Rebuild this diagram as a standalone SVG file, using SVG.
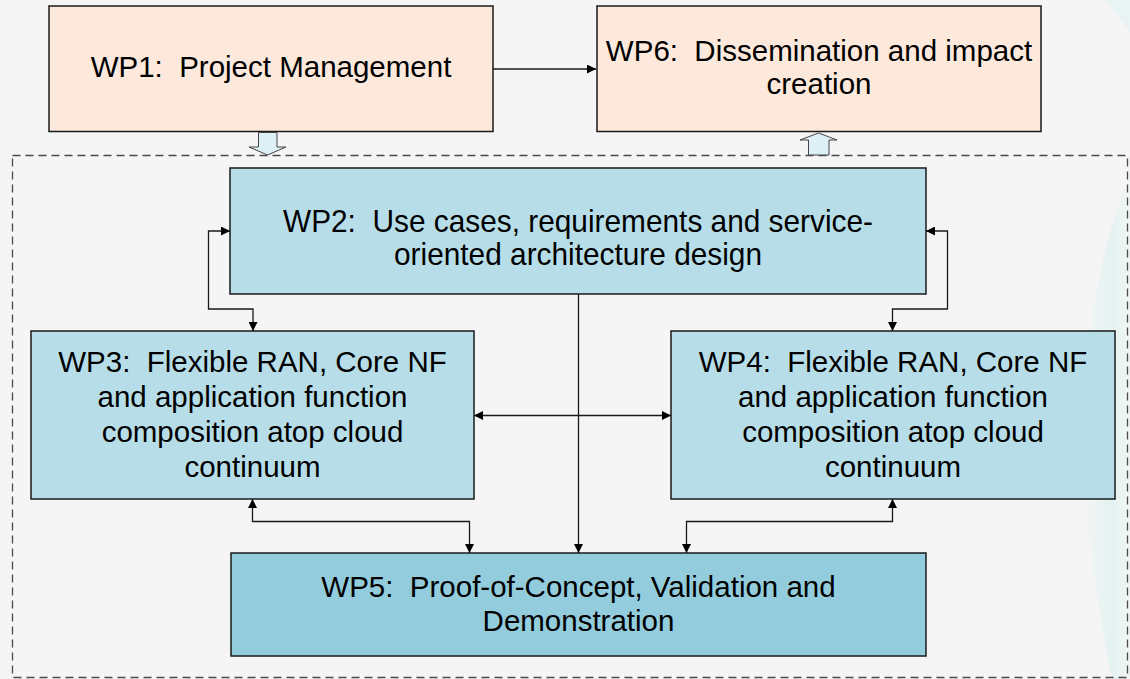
<svg xmlns="http://www.w3.org/2000/svg" width="1130" height="679" viewBox="0 0 1130 679">
<defs>
<style>
.box{stroke:#1a1a1a;stroke-width:1.5}
.peach{fill:#fde9dc}
.blue{fill:#b7dee8}
.dblue{fill:#93cddd}
.t{font-family:"Liberation Sans",Arial,sans-serif;font-size:29.5px;fill:#000;text-anchor:middle;white-space:pre}
.c{fill:none;stroke:#1a1a1a;stroke-width:1.3}
.blk{fill:#ddf0f5;stroke:#444;stroke-width:1}
</style>
<marker id="ah" viewBox="0 0 10 10" refX="10" refY="5" markerWidth="9" markerHeight="9" markerUnits="userSpaceOnUse" orient="auto-start-reverse">
<path d="M0,0 L10,5 L0,10 z" fill="#000"/>
</marker>
<linearGradient id="sw" x1="0" y1="0" x2="1" y2="0">
<stop offset="0" stop-color="#c8f0ee" stop-opacity="0"/>
<stop offset="0.6" stop-color="#bfeeea" stop-opacity="0.35"/>
<stop offset="1" stop-color="#d8f4f2" stop-opacity="0.15"/>
</linearGradient>
</defs>
<rect x="0" y="0" width="1130" height="679" fill="#f5f5f5"/>
<g id="decor">
<path d="M1130,175 C1095,260 1075,380 1085,500 C1092,580 1105,640 1112,679 L1130,679 Z" fill="url(#sw)"/>
<path d="M1105,0 C1115,12 1124,24 1130,32 L1130,0 Z" fill="#d6f2f0" opacity="0.35"/>
</g>
<rect id="container" x="12.5" y="155.5" width="1115" height="522" fill="none" stroke="#4a4a4a" stroke-width="1.3" stroke-dasharray="8,5"/>
<g id="wp1">
<rect class="box peach" x="49" y="6" width="444" height="125.5"/>
<text class="t" x="271" y="77" xml:space="preserve">WP1:  Project Management</text>
</g>
<g id="wp6">
<rect class="box peach" x="597" y="6" width="444" height="125.5"/>
<text class="t" x="819" y="61" xml:space="preserve">WP6:  Dissemination and impact</text>
<text class="t" x="819" y="94">creation</text>
</g>
<g id="wp2">
<rect class="box blue" x="230" y="168" width="696" height="126"/>
<text class="t" x="578" y="232" textLength="590" lengthAdjust="spacingAndGlyphs" style="font-size:32px" xml:space="preserve">WP2:  Use cases, requirements and service-</text>
<text class="t" x="578" y="265" style="font-size:32px" textLength="368" lengthAdjust="spacingAndGlyphs">oriented architecture design</text>
</g>
<g id="wp3">
<rect class="box blue" x="31" y="331" width="443" height="168"/>
<text class="t" x="252.5" y="372" xml:space="preserve">WP3:  Flexible RAN, Core NF</text>
<text class="t" x="252.5" y="407">and application function</text>
<text class="t" x="252.5" y="442">composition atop cloud</text>
<text class="t" x="252.5" y="477">continuum</text>
</g>
<g id="wp4">
<rect class="box blue" x="671" y="331" width="444" height="168"/>
<text class="t" x="893" y="372" xml:space="preserve">WP4:  Flexible RAN, Core NF</text>
<text class="t" x="893" y="407">and application function</text>
<text class="t" x="893" y="442">composition atop cloud</text>
<text class="t" x="893" y="477">continuum</text>
</g>
<g id="wp5">
<rect class="box dblue" x="231" y="553" width="695" height="103"/>
<text class="t" x="578.5" y="597" xml:space="preserve">WP5:  Proof-of-Concept, Validation and</text>
<text class="t" x="578.5" y="631">Demonstration</text>
</g>
<g id="connectors">
<path class="c" d="M493,69 H596" marker-end="url(#ah)"/>
<path class="blk" d="M258.5,132.5 H277 V147 H286 L267.5,155 L249,147 H258.5 Z"/>
<path class="blk" d="M808.5,155 V140 H800 L818.5,133 L837,140 H829 V155 Z"/>
<path class="c" d="M230,231 H208.5 V309 H253 V331" marker-start="url(#ah)" marker-end="url(#ah)"/>
<path class="c" d="M926,231 H947.5 V309 H892.5 V331" marker-start="url(#ah)" marker-end="url(#ah)"/>
<path class="c" d="M578.5,294 V553" marker-end="url(#ah)"/>
<path class="c" d="M474,415.5 H671" marker-start="url(#ah)" marker-end="url(#ah)"/>
<path class="c" d="M252.5,499 V521.5 H469.5 V553" marker-start="url(#ah)" marker-end="url(#ah)"/>
<path class="c" d="M892.5,499 V521.5 H686.5 V553" marker-start="url(#ah)" marker-end="url(#ah)"/>
</g>
</svg>
